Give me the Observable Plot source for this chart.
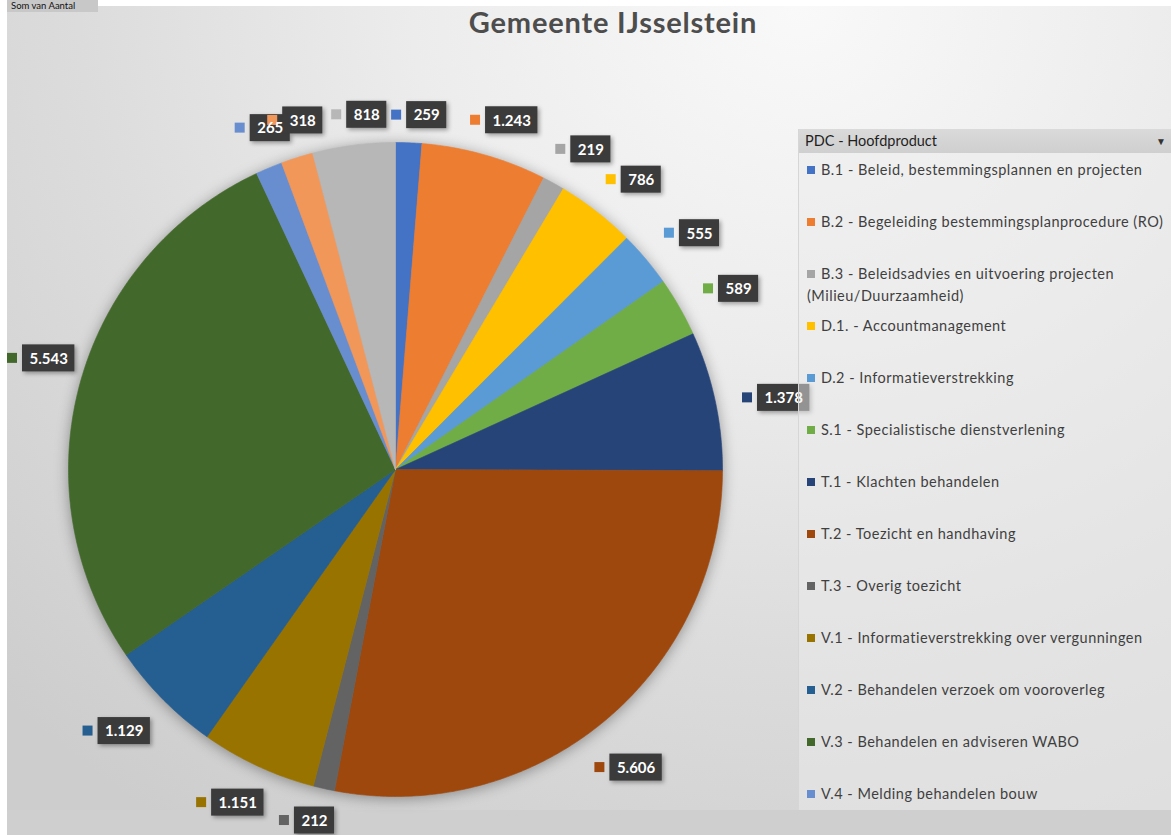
<!DOCTYPE html>
<html>
<head>
<meta charset="utf-8">
<script src="https://cdn.jsdelivr.net/npm/d3@7"></script>
<script src="https://cdn.jsdelivr.net/npm/@observablehq/plot@0.6"></script>
<style>
  html, body { margin: 0; padding: 0; background: #ffffff; }
  body { width: 1171px; height: 835px; position: relative; overflow: hidden; font-family: Lato, "Open Sans", sans-serif; }
  #bg { position: absolute; left: 7px; top: 6px; width: 1164px; height: 829px;
        background: radial-gradient(ellipse 95% 120% at 68% 0%, #f9f9f9 0%, #ececec 35%, #dcdcdc 65%, #cdcdcd 100%); }
  #fieldbtn { position: absolute; left: 7px; top: 0px; width: 91px; height: 12px; background: #c8c8c8;
        font-size: 9.5px; color: #111; padding-left: 4px; box-sizing: border-box; line-height: 12px; white-space: nowrap; }
  #chart { position: absolute; left: 0; top: 0; }
  #title { position: absolute; left: 0; width: 1226px; top: 4px; text-align: center; font-size: 29px; letter-spacing: 0.8px; font-weight: bold; color: #4d4d4d; }
  #legend { position: absolute; left: 798px; top: 129px; width: 373px; height: 681px; background: rgba(236,236,236,0.5);
        border-left: 1px solid #d6d6d6; }
  #legend .hdr { position: absolute; left: 0; top: 0; width: 100%; height: 24px; background: linear-gradient(#dadada, #cfcfcf);
        font-size: 14.5px; color: #1f1f1f; line-height: 24px; padding-left: 6px; box-sizing: border-box; }
  #legend .hdr span.arr { position: absolute; right: 6px; top: 0; font-size: 10px; color: #333; }
  #legend .item { position: absolute; left: 8px; font-size: 14.5px; color: #3f3f3f; line-height: 22px; letter-spacing: 0.5px; white-space: nowrap; }
  #legend .sw { display: inline-block; width: 8px; height: 8px; margin-right: 6px; vertical-align: 1px; }
  #below { position: absolute; left: 7px; top: 810px; width: 1164px; height: 25px; background: #cfcfcf; }
  svg g[aria-label="line"] { filter: drop-shadow(0px 2px 7px rgba(0,0,0,0.35)); }
  svg g[aria-label="rect"][fill="#3b3b3b"] { filter: drop-shadow(2px 2px 2px rgba(0,0,0,0.35)); }
</style>
</head>
<body>
<div id="bg"></div>
<div id="below"></div>
<div id="fieldbtn">Som van Aantal</div>
<div id="chart"></div>
<div id="legend"></div>
<div id="title">Gemeente IJsselstein</div>
<script>
// ---- data ----
const codes = ["B.1","B.2","B.3","D.1","D.2","S.1","T.1","T.2","T.3","V.1","V.2","V.3","V.4","V.5","V.6"];
const names = [
  "B.1 - Beleid, bestemmingsplannen en projecten",
  "B.2 - Begeleiding bestemmingsplanprocedure (RO)",
  "B.3 - Beleidsadvies en uitvoering projecten (Milieu/Duurzaamheid)",
  "D.1. - Accountmanagement",
  "D.2 - Informatieverstrekking",
  "S.1 - Specialistische dienstverlening",
  "T.1 - Klachten behandelen",
  "T.2 - Toezicht en handhaving",
  "T.3 - Overig toezicht",
  "V.1 - Informatieverstrekking over vergunningen",
  "V.2 - Behandelen verzoek om vooroverleg",
  "V.3 - Behandelen en adviseren WABO",
  "V.4 - Melding behandelen bouw",
  "V.5",
  "V.6"
];
const values = [259, 1243, 219, 786, 555, 589, 1378, 5606, 212, 1151, 1129, 5543, 265, 318, 818];
const colors = ["#4472C4","#ED7D31","#A5A5A5","#FFC000","#5B9BD5","#70AD47","#264478","#9E480E","#636363","#997300","#255E91","#43682B","#698ED0","#F1975A","#B7B7B7"];
const legendCount = 13; // entries visible in the legend panel

// ---- geometry ----
const W = 830, H = 835, cx = 395, cy = 469, R = 327;
const X = px => (px - cx) / R;
const Y = py => (cy - py) / R;
const total = d3.sum(values);
const fmt = d3.formatLocale({decimal: ",", thousands: ".", grouping: [3], currency: ["€", ""]}).format(",d");

const slicePts = [];
let cum = 0;
const mids = [];
values.forEach((v, i) => {
  const a0 = cum / total * 2 * Math.PI;
  cum += v;
  const a1 = cum / total * 2 * Math.PI;
  mids.push((a0 + a1) / 2);
  const n = Math.max(2, Math.ceil((a1 - a0) / (Math.PI / 360)));
  slicePts.push({code: codes[i], x: 0, y: 0});
  for (let k = 0; k <= n; k++) {
    const t = a0 + (a1 - a0) * k / n;
    slicePts.push({code: codes[i], x: Math.sin(t), y: Math.cos(t)});
  }
  slicePts.push({code: codes[i], x: 0, y: 0});
});

const ctx = document.createElement("canvas").getContext("2d");
ctx.font = "bold 15px Lato";
const labelShift = 1.5 * Math.PI / 180; // labels sit slightly clockwise of the slice middle
const labels = values.map((v, i) => {
  const s = fmt(v);
  const tw = ctx.measureText(s).width;
  const bw = tw + 14, bh = 27, sq = 10, gap = 5;
  const uw = sq + gap + bw;
  const th = mids[i] + labelShift;
  const sn = Math.sin(th), cs = Math.cos(th);
  const half = uw / 2 * Math.abs(sn) + bh / 2 * Math.abs(cs);
  const d = R + 12 + 13 * Math.abs(sn) + half;
  let ucx = cx + d * sn, ucy = cy - d * cs;
  let left = Math.max(7, ucx - uw / 2);
  const top = ucy - bh / 2;
  const bx1 = left + sq + gap, bx2 = bx1 + bw;
  return {
    code: codes[i], label: s,
    bx1: X(bx1), bx2: X(bx2), by1: Y(top), by2: Y(top + bh),
    sx1: X(left), sx2: X(left + sq), sy1: Y(ucy - sq / 2), sy2: Y(ucy + sq / 2),
    tx: X((bx1 + bx2) / 2), ty: Y(ucy + 0.5)
  };
});

const chart = Plot.plot({
  width: W, height: H, margin: 0,
  style: {background: "transparent", overflow: "visible"},
  x: {domain: [X(0), X(W)], axis: null},
  y: {domain: [Y(H), Y(0)], axis: null},
  color: {domain: codes, range: colors},
  marks: [
    Plot.line(slicePts, {x: "x", y: "y", z: "code", fill: "code", stroke: "code", strokeWidth: 0.6, curve: "linear"}),
    Plot.rect(labels, {x1: "bx1", x2: "bx2", y1: "by1", y2: "by2", fill: "#3b3b3b"}),
    Plot.rect(labels, {x1: "sx1", x2: "sx2", y1: "sy1", y2: "sy2", fill: "code"}),
    Plot.text(labels, {x: "tx", y: "ty", text: "label", fill: "white", fontSize: 15, fontWeight: "bold", fontFamily: "Lato"})
  ]
});
document.getElementById("chart").appendChild(chart);

// ---- legend ----
const lg = document.getElementById("legend");
const hdr = document.createElement("div");
hdr.className = "hdr";
hdr.innerHTML = 'PDC - Hoofdproduct<span class="arr">&#9660;</span>';
lg.appendChild(hdr);
for (let i = 0; i < legendCount; i++) {
  const it = document.createElement("div");
  it.className = "item";
  it.style.top = (170 + 52 * i - 129 - 11) + "px";
  const sw = document.createElement("span");
  sw.className = "sw";
  sw.style.background = colors[i];
  it.appendChild(sw);
  if (codes[i] === "B.3") {
    it.appendChild(document.createTextNode("B.3 - Beleidsadvies en uitvoering projecten"));
    it.appendChild(document.createElement("br"));
    it.appendChild(document.createTextNode("(Milieu/Duurzaamheid)"));
  } else {
    it.appendChild(document.createTextNode(names[i]));
  }
  lg.appendChild(it);
}
</script>
</body>
</html>
